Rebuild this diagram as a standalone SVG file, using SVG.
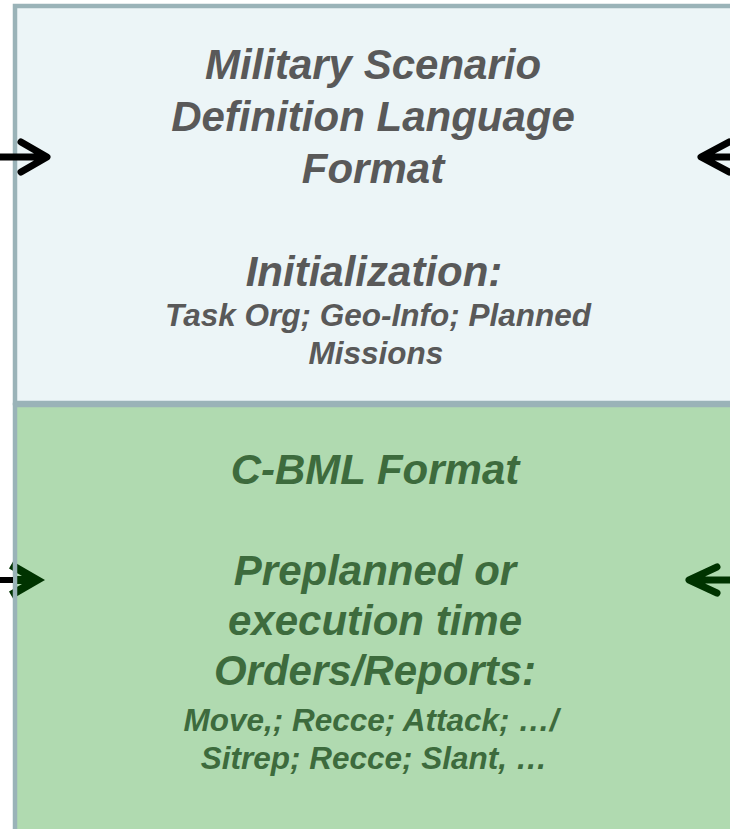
<svg xmlns="http://www.w3.org/2000/svg" width="730" height="829" viewBox="0 0 730 829">
<style>
.t{font-family:"Liberation Sans",Arial,sans-serif;font-weight:bold;font-style:italic;text-anchor:middle}
.big{font-size:42px}
.small{font-size:31.5px}
.grey{fill:#595959}
.green{fill:#3d6b3d}
.border{fill:none;stroke:#9ab3b8;stroke-width:4.5}
.ar{fill:none;stroke-linecap:round;stroke-linejoin:round;stroke-width:7}
</style>
<rect x="0" y="0" width="730" height="829" fill="#ffffff"/>
<g id="msdl">
<rect x="15" y="6" width="730" height="397" fill="#ecf5f7"/>
<text class="t big grey" x="373" y="79">Military Scenario</text>
<text class="t big grey" x="373" y="131">Definition Language</text>
<text class="t big grey" x="373" y="183">Format</text>
<text class="t big grey" x="374" y="286">Initialization:</text>
<text class="t small grey" x="378" y="326">Task Org; Geo-Info; Planned</text>
<text class="t small grey" x="376" y="364">Missions</text>
</g>
<g id="cbml">
<rect x="15" y="405" width="730" height="430" fill="#b0dab0"/>
<text class="t big green" x="375" y="484">C-BML Format</text>
<text class="t big green" x="375" y="585">Preplanned or</text>
<text class="t big green" x="375" y="635">execution time</text>
<text class="t big green" x="375" y="685">Orders/Reports:</text>
<text class="t small green" x="371" y="731">Move,; Recce; Attack; …/</text>
<text class="t small green" x="374" y="769">Sitrep; Recce; Slant, …</text>
</g>
<g id="connectors">
<path d="M14 580 H34 M11 565 L37 580 L11 595" fill="none" stroke="#003300" stroke-width="8" stroke-linejoin="miter"/>
</g>
<g id="borders">
<rect class="border" x="15" y="6" width="730" height="397"/>
<rect class="border" x="15" y="405" width="730" height="430"/>
</g>
<g id="connectors-top">
<path class="ar" stroke="#000000" d="M0 157 H45 M21 142 L47 157 L21 172"/>
<path class="ar" stroke="#000000" d="M730 157 H702 M729 142 L701 157 L729 172"/>
<path d="M0 580 H13" stroke="#000000" stroke-width="6"/>
<path class="ar" stroke="#003300" d="M730 580 H690 M717 567 L689 580 L717 593"/>
</g>
</svg>
